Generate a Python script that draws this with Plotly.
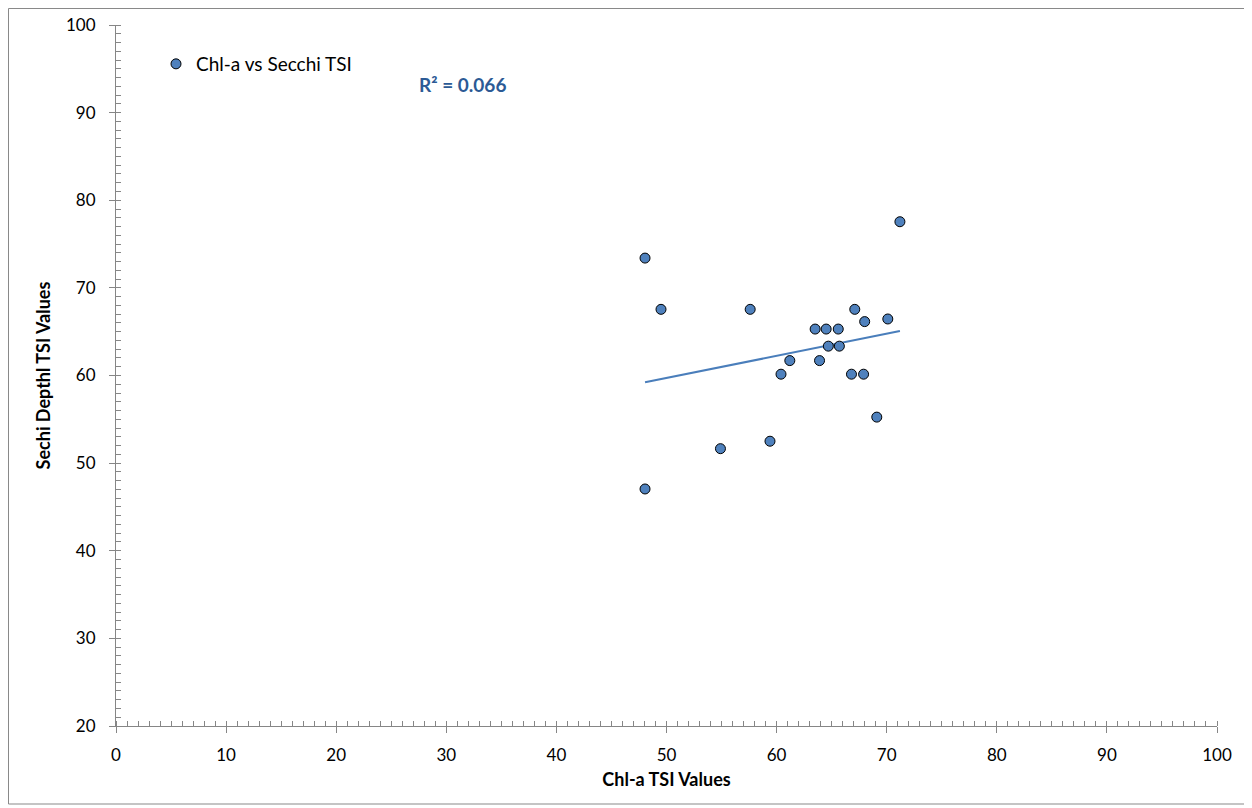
import numpy as np
import plotly.graph_objects as go

chla_tsi = [48.05, 49.5, 57.6, 71.2, 67.1, 68.0, 70.1, 63.5, 64.5, 65.6, 64.7, 65.7,
            61.2, 63.9, 60.4, 66.8, 67.9, 69.1, 59.4, 54.9, 48.05]
secchi_tsi = [73.4, 67.55, 67.55, 77.55, 67.55, 66.15, 66.45, 65.3, 65.3, 65.3, 63.35, 63.35,
              61.7, 61.7, 60.15, 60.15, 60.15, 55.25, 52.5, 51.65, 47.05]
series_name = "Chl-a vs Secchi TSI"
r2_label = "R² = 0.066"

x = np.array(chla_tsi)
y = np.array(secchi_tsi)
slope, intercept = np.polyfit(x, y, 1)
tx = np.array([x.min(), x.max()])
ty = slope * tx + intercept

FONT = "Lato, 'Open Sans', sans-serif"

# page body has an 8px margin; plot area in page px: x 116..1217, y 25..726
OFF = 8
L, T = 116 - OFF, 25 - OFF
PW, PH = 1101, 701
W, H = 1252 - OFF, 808 - OFF


def px(fx):
    return (fx - OFF - L) / PW


def py(fy):
    return (T + PH - (fy - OFF)) / PH


fig = go.Figure()
fig.add_trace(go.Scatter(
    x=tx, y=ty, mode="lines", showlegend=False,
    line=dict(color="#4A7EBB", width=2), hoverinfo="skip"))
fig.add_trace(go.Scatter(
    x=chla_tsi, y=secchi_tsi, mode="markers", name=series_name,
    marker=dict(size=10, color="#4F81BD", line=dict(color="#000000", width=1))))

axis_common = dict(
    showgrid=False, zeroline=False, showline=True, linecolor="#868686", linewidth=1,
    ticks="outside", ticklen=6, tickcolor="#868686", tickwidth=1,
    tickfont=dict(family=FONT, size=17, color="#000000"),
    minor=dict(ticks="inside", ticklen=5, tickcolor="#868686", dtick=1, showgrid=False),
    dtick=10, automargin=False,
)

fig.update_xaxes(range=[0, 100], ticklabelstandoff=8,
                 title=dict(text="<b>Chl-a TSI Values</b>",
                            font=dict(family=FONT, size=18, color="#000"), standoff=8),
                 **axis_common)
fig.update_yaxes(range=[20, 100], ticklabelstandoff=10,
                 title=dict(text="<b>Sechi Depthl TSI Values</b>",
                            font=dict(family=FONT, size=18, color="#000"), standoff=10),
                 **axis_common)

fig.add_annotation(xref="paper", yref="paper", x=px(417), y=py(84),
                   xanchor="left", yanchor="middle", showarrow=False,
                   text="<b>" + r2_label + "</b>",
                   font=dict(family=FONT, size=19, color="#2C5A95"))

fig.add_shape(type="rect", xref="paper", yref="paper",
              x0=px(8.5), x1=px(1249), y0=py(804), y1=py(8.5),
              line=dict(color="#898989", width=1), fillcolor="rgba(0,0,0,0)", layer="below")

fig.update_layout(
    width=W, height=H,
    margin=dict(l=L, r=W - L - PW, t=T, b=H - T - PH, autoexpand=False),
    paper_bgcolor="white", plot_bgcolor="white",
    font=dict(family=FONT, size=18, color="#000"),
    legend=dict(x=px(156), y=py(64), xanchor="left", yanchor="middle",
                bgcolor="rgba(0,0,0,0)", font=dict(family=FONT, size=19),
                itemwidth=30, tracegroupgap=0),
    showlegend=True,
)

fig.write_html("out.html")
